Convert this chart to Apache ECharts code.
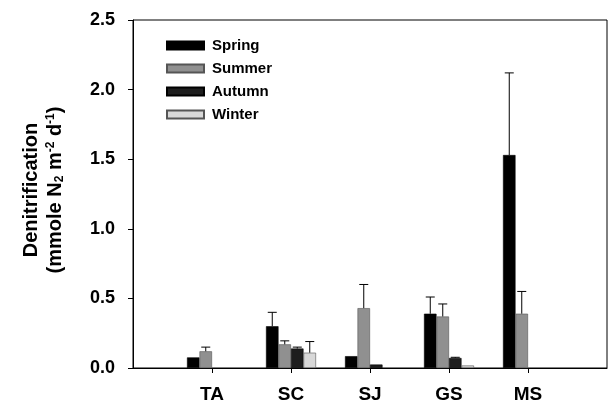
<!DOCTYPE html>
<html>
<head>
<meta charset="utf-8">
<script src="https://cdn.jsdelivr.net/npm/echarts@6/dist/echarts.min.js"></script>
<style>html,body{margin:0;padding:0;background:#fff;}#c{width:610px;height:406px;}</style>
</head>
<body>
<div id="c"></div>
<script>
var categories = ['TA', 'SC', 'SJ', 'GS', 'MS'];
var seriesNames = ['Spring', 'Summer', 'Autumn', 'Winter'];
var spring    = [0.076, 0.30, 0.085, 0.39, 1.53];
var springErr = [0,     0.10, 0,     0.12, 0.59];
var summer    = [0.12,  0.17, 0.43,  0.37, 0.39];
var summerErr = [0.03,  0.025,0.17,  0.09, 0.16];
var autumn    = [null,  0.14, 0.025, 0.072, null];
var autumnErr = [0,     0.01, 0,     0.005, 0];
var winter    = [null,  0.11, null,  0.018, null];
var winterErr = [0,     0.08, 0,     0,     0];
var yTicks = [0, 0.5, 1.0, 1.5, 2.0, 2.5];

var values = [spring, summer, autumn, winter];
var errors = [springErr, summerErr, autumnErr, winterErr];
var colors = ['#000000', '#909090', '#1e1e1e', '#d8d8d8'];
var BW = 12.5;
var FONT = '"Liberation Sans", Arial, sans-serif';

// padded category axis: empty slot before and after
var xData = [''].concat(categories).concat(['']);

var series = [];
values.forEach(function (arr, s) {
  series.push({
    name: seriesNames[s],
    type: 'bar',
    barWidth: BW,
    barGap: '0%',
    data: [null].concat(arr).concat([null]),
    itemStyle: {
      color: colors[s],
      borderColor: s === 1 || s === 3 ? '#555' : '#000',
      borderWidth: 0.6
    },
    z: 2
  });
});

var errData = [];
values.forEach(function (arr, s) {
  arr.forEach(function (v, i) {
    if (v != null && errors[s][i] > 0) errData.push([i + 1, v, errors[s][i], s]);
  });
});

series.push({
  type: 'custom',
  name: 'err',
  data: errData,
  z: 3,
  renderItem: function (params, api) {
    var ci = api.value(0), v = api.value(1), e = api.value(2), s = api.value(3);
    var base = api.coord([ci, v]);
    var top = api.coord([ci, v + e]);
    var x = base[0] + (s - 1.5) * BW;
    return {
      type: 'group',
      children: [
        { type: 'line', shape: { x1: x, y1: base[1], x2: x, y2: top[1] }, style: { stroke: '#000', lineWidth: 1 } },
        { type: 'line', shape: { x1: x - 4.5, y1: top[1], x2: x + 4.5, y2: top[1] }, style: { stroke: '#000', lineWidth: 1 } }
      ]
    };
  }
});

var chart = echarts.init(document.getElementById('c'), null, { renderer: 'canvas' });
chart.setOption({
  animation: false,
  backgroundColor: '#fff',
  grid: { left: 133, right: 3, top: 20, bottom: 38, show: true, borderColor: '#000', borderWidth: 1, backgroundColor: 'transparent' },
  legend: {
    data: seriesNames,
    orient: 'vertical',
    left: 166,
    top: 38,
    padding: 0,
    itemWidth: 37,
    itemHeight: 8,
    itemGap: 8,
    icon: 'rect',
    textStyle: { fontFamily: FONT, fontWeight: 'bold', fontSize: 15, color: '#000', lineHeight: 14, padding: [0, 0, 0, 3] }
  },
  xAxis: {
    type: 'category',
    data: xData,
    boundaryGap: false,
    axisLine: { lineStyle: { color: '#000', width: 1 } },
    axisTick: { show: true, inside: false, length: 5, lineStyle: { color: '#000' },
      interval: function (i) { return i >= 1 && i <= categories.length; } },
    axisLabel: { fontFamily: FONT, fontWeight: 'bold', fontSize: 19, color: '#000', margin: 17, interval: 0 },
    splitLine: { show: false }
  },
  yAxis: {
    type: 'value',
    min: yTicks[0],
    max: yTicks[yTicks.length - 1],
    interval: 0.5,
    axisLine: { show: true, lineStyle: { color: '#000', width: 1 } },
    axisTick: { show: true, inside: false, length: 5, lineStyle: { color: '#000' } },
    axisLabel: { fontFamily: FONT, fontWeight: 'bold', fontSize: 18, color: '#000', margin: 18,
      formatter: function (v) { return v.toFixed(1); } },
    splitLine: { show: false }
  },
  graphic: [
    {
      type: 'text', x: 31, y: 190, rotation: Math.PI / 2,
      style: { text: 'Denitrification', fontFamily: FONT, fontWeight: 'bold', fontSize: 20, fill: '#000', align: 'center', verticalAlign: 'middle' }
    },
    {
      type: 'text', x: 55, y: 190, rotation: Math.PI / 2,
      style: {
        text: '(mmole N{sub|2} m{sup|-2} d{sup|-1})',
        fontFamily: FONT, fontWeight: 'bold', fontSize: 20, fill: '#000', align: 'center', verticalAlign: 'middle',
        rich: {
          sub: { fontFamily: FONT, fontWeight: 'bold', fontSize: 12, fill: '#000', padding: [9, 0, 0, 0], verticalAlign: 'bottom' },
          sup: { fontFamily: FONT, fontWeight: 'bold', fontSize: 12, fill: '#000', padding: [0, 0, 9, 0], verticalAlign: 'top' }
        }
      }
    }
  ],
  series: series
});
</script>
</body>
</html>
